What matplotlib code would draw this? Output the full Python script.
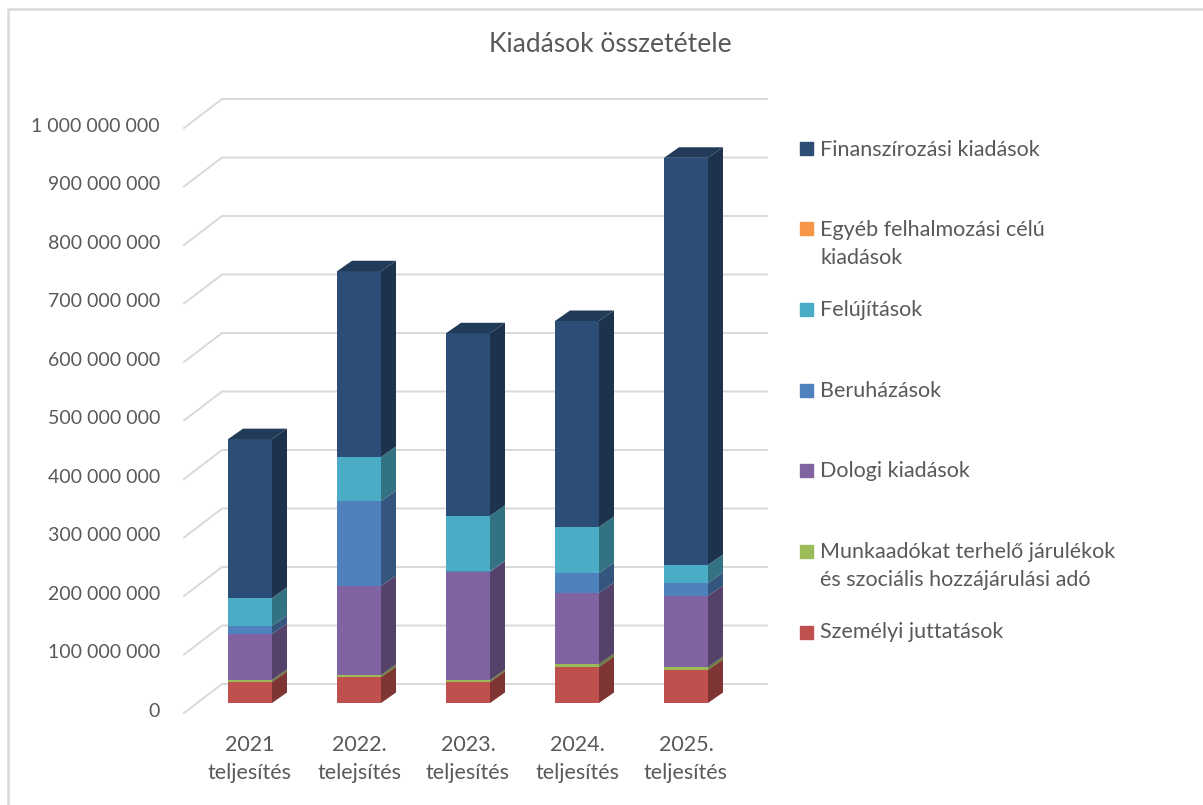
import numpy as np
import matplotlib
matplotlib.use("Agg")
from matplotlib import pyplot as plt
from matplotlib.patches import Polygon, Rectangle
from matplotlib.colors import to_rgb
from matplotlib.lines import Line2D

plt.rcParams['font.family'] = ['Lato', 'DejaVu Sans']

# data (millions of HUF)
categories = ["2021\nteljesítés", "2022.\ntelejsítés", "2023.\nteljesítés",
              "2024.\nteljesítés", "2025.\nteljesítés"]
series_names = ["Személyi juttatások",
                "Munkaadókat terhelő járulékok\nés szociális hozzájárulási adó",
                "Dologi kiadások",
                "Beruházások",
                "Felújítások",
                "Egyéb felhalmozási célú\nkiadások",
                "Finanszírozási kiadások"]
szemelyi = [36, 44, 36, 61.5, 56.5]
munkaado = [3.5, 4, 3, 5, 5]
dologi = [78.5, 152, 185, 121.5, 121.5]
beruhazas = [13.5, 145, 2, 34, 22]
felujitas = [48, 75.5, 94, 79, 31]
egyeb = [0, 0, 0, 0, 0]
finansz = [271.5, 317.5, 312, 352, 696]
series_vals = [szemelyi, munkaado, dologi, beruhazas, felujitas, egyeb, finansz]
colors = ["#C0504D", "#9BBB59", "#8064A2", "#4F81BD", "#4BACC6", "#F79646", "#2C4D75"]
yticks = np.arange(0, 1001, 100)

TXT = "#595959"
GRID = "#D9D9D9"

W, H = 1203, 805
fig = plt.figure(figsize=(W / 100, H / 100), dpi=100)

# axes placed so that one category = 109 px and 100 M = 58.5 px
L, R, T, B = 150, 780, 80, 740
ax = fig.add_axes([L / W, (H - B) / H, (R - L) / W, (B - T) / H])
px_x, x0 = 109.0, 250.0
px_y, y0 = 0.585, 703.0
ax.set_xlim((L - x0) / px_x, (R - x0) / px_x)
ax.set_ylim((y0 - B) / px_y, (y0 - T) / px_y)
ax.axis("off")

# pseudo-3D wall
front_x, front_dy = (184 - x0) / px_x, -10 / px_y
back_x, back_dy = (222 - x0) / px_x, 19 / px_y
right_x = (767 - x0) / px_x
for v in yticks:
    ax.plot([front_x, back_x, right_x], [v + front_dy, v + back_dy, v + back_dy],
            color=GRID, lw=1.4, zorder=1, solid_joinstyle="miter")
    ax.text((160 - x0) / px_x, v + front_dy + 2 / px_y, f"{v * 1_000_000:,}".replace(",", " "),
            ha="right", va="center", fontsize=14, color=TXT)

# bars
bw = 44 / px_x
ddx, ddy = 15 / px_x, 10.5 / px_y


def shade(c, f):
    return tuple(np.array(to_rgb(c)) * f)


xs = np.arange(len(categories))
bottom = np.zeros(len(categories))
for vals, col in zip(series_vals, colors):
    vals = np.array(vals, dtype=float)
    ax.bar(xs, vals, bw, bottom=bottom, color=col, zorder=3, linewidth=0)
    for x, b, h in zip(xs, bottom, vals):
        if h <= 0:
            continue
        xr = x + bw / 2
        side = [(xr, b), (xr + ddx, b + ddy), (xr + ddx, b + h + ddy), (xr, b + h)]
        ax.add_patch(Polygon(side, closed=True, color=shade(col, 0.66), lw=0, zorder=3))
    bottom = bottom + vals

# top faces
for x, top in zip(xs, bottom):
    xl, xr = x - bw / 2, x + bw / 2
    lid = [(xl, top), (xl + ddx, top + ddy), (xr + ddx, top + ddy), (xr, top)]
    ax.add_patch(Polygon(lid, closed=True, color=shade(colors[-1], 0.76), lw=0, zorder=3))

# category labels
for x, lab in zip(xs, categories):
    ax.text(x, (y0 - 735) / px_y, lab, ha="center", va="top", fontsize=15.5,
            color=TXT, linespacing=1.5)

# title
fig.text(610 / W, 1 - 45 / H, "Kiadások összetétele", ha="center", va="center",
         fontsize=19, color=TXT)

# legend (top entry = top of stack)
leg_y = [632, 551, 470, 390, 310, 229, 149]
for name, col, ly in zip(series_names, colors, leg_y):
    fig.patches.append(Rectangle((800 / W, 1 - (ly + 6.5) / H), 13 / W, 13 / H,
                                 transform=fig.transFigure, color=col, figure=fig))
    fig.text(820 / W, 1 - (ly - 9.5) / H, name, ha="left", va="top", fontsize=15.5,
             color=TXT, linespacing=1.55)

# chart border
fig.lines.append(Line2D([7.5 / W, 7.5 / W, 1.0], [0.0, 1 - 9.5 / H, 1 - 9.5 / H],
                        transform=fig.transFigure, color=GRID, lw=1.8))

fig.savefig("out.png", dpi=100, facecolor="white")
